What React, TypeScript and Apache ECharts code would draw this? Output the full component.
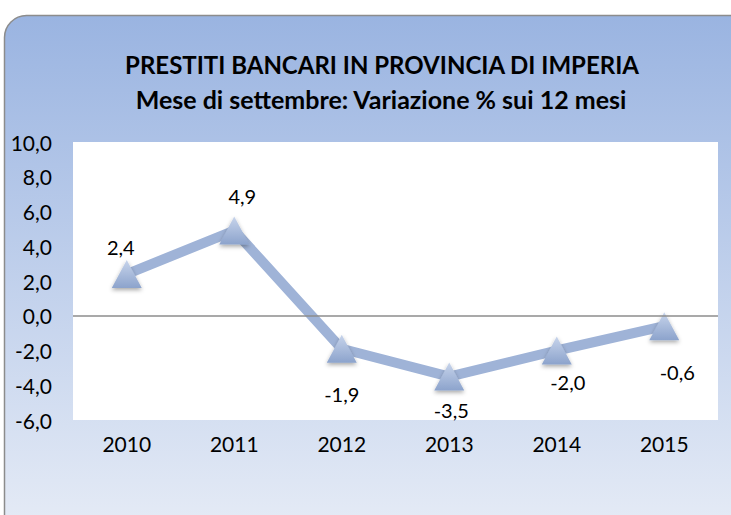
import React, { useEffect, useRef } from "react";
import * as echarts from "echarts";

const titleLines = ["PRESTITI BANCARI IN PROVINCIA DI IMPERIA", "Mese di settembre: Variazione % sui 12 mesi"];
const years = ["2010", "2011", "2012", "2013", "2014", "2015"];
const values = [2.4, 4.9, -1.9, -3.5, -2.0, -0.6];
const labelOffsets: [number, number][] = [[-6, -27], [8, -35], [0, 45], [2, 33], [11, 31], [13, 46]];

const FONT = "Lato, 'Open Sans', sans-serif";
const fmt = (v: number) => v.toFixed(1).replace(".", ",");

export default function App() {
  const ref = useRef<HTMLDivElement>(null);
  useEffect(() => {
    const chart = echarts.init(ref.current!, null, { renderer: "svg" });
    chart.setOption({
      animation: false,
      graphic: [
        {
          type: "rect",
          z: -10,
          shape: { x: 4.5, y: 15.5, width: 760, height: 540, r: 22 },
          style: {
            fill: new echarts.graphic.LinearGradient(0, 0, 0, 1, [
              { offset: 0, color: "#9AB4E1" },
              { offset: 1, color: "#E9EEF7" },
            ]),
            stroke: "#8C8C8C",
            lineWidth: 1.5,
          },
        },
        {
          type: "text",
          x: 382,
          y: 52,
          style: {
            text: titleLines[0],
            font: `bold 24px ${FONT}`,
            fill: "#000",
            align: "center",
            verticalAlign: "top",
          },
        },
        {
          type: "text",
          x: 381,
          y: 86,
          style: {
            text: titleLines[1],
            font: `bold 25px ${FONT}`,
            fill: "#000",
            align: "center",
            verticalAlign: "top",
          },
        },
      ],
      grid: {
        left: 73,
        top: 142,
        right: 13,
        bottom: 95,
        show: true,
        backgroundColor: "#ffffff",
        borderWidth: 0,
      },
      xAxis: {
        type: "category",
        data: years,
        boundaryGap: true,
        axisLine: { show: false, onZero: false },
        axisTick: { show: false },
        axisLabel: { color: "#000", fontSize: 21, fontFamily: FONT, margin: 13 },
        splitLine: { show: false },
      },
      yAxis: {
        type: "value",
        min: -6,
        max: 10,
        interval: 2,
        axisLine: { show: false },
        axisTick: { show: false },
        splitLine: { show: false },
        axisLabel: {
          color: "#000",
          fontSize: 21,
          fontFamily: FONT,
          margin: 21,
          formatter: (v: number) => fmt(v),
        },
      },
      series: [
        {
          type: "line",
          data: values.map((v, i) => ({
            value: v,
            label: { offset: labelOffsets[i] },
          })),
          lineStyle: { color: "#9FB3D7", width: 10 },
          symbol: "triangle",
          symbolSize: [30, 28],
          itemStyle: {
            color: new echarts.graphic.LinearGradient(0, 0, 0, 1, [
              { offset: 0, color: "#C7D4EB" },
              { offset: 1, color: "#8CA3CC" },
            ]),
            shadowBlur: 4,
            shadowColor: "rgba(0,0,0,0.35)",
            shadowOffsetY: 2,
          },
          label: {
            show: true,
            position: "inside",
            color: "#000",
            fontSize: 20,
            fontFamily: FONT,
            formatter: (p: any) => fmt(p.value),
          },
          markLine: {
            silent: true,
            symbol: "none",
            label: { show: false },
            lineStyle: { color: "#8C8C8C", width: 1.5, type: "solid" },
            data: [{ yAxis: 0 }],
          },
          z: 3,
        },
      ],
    });
    return () => chart.dispose();
  }, []);
  return (
    <div
      ref={ref}
      style={{ position: "fixed", left: 0, top: 0, width: 731, height: 515, background: "#fff" }}
    />
  );
}
